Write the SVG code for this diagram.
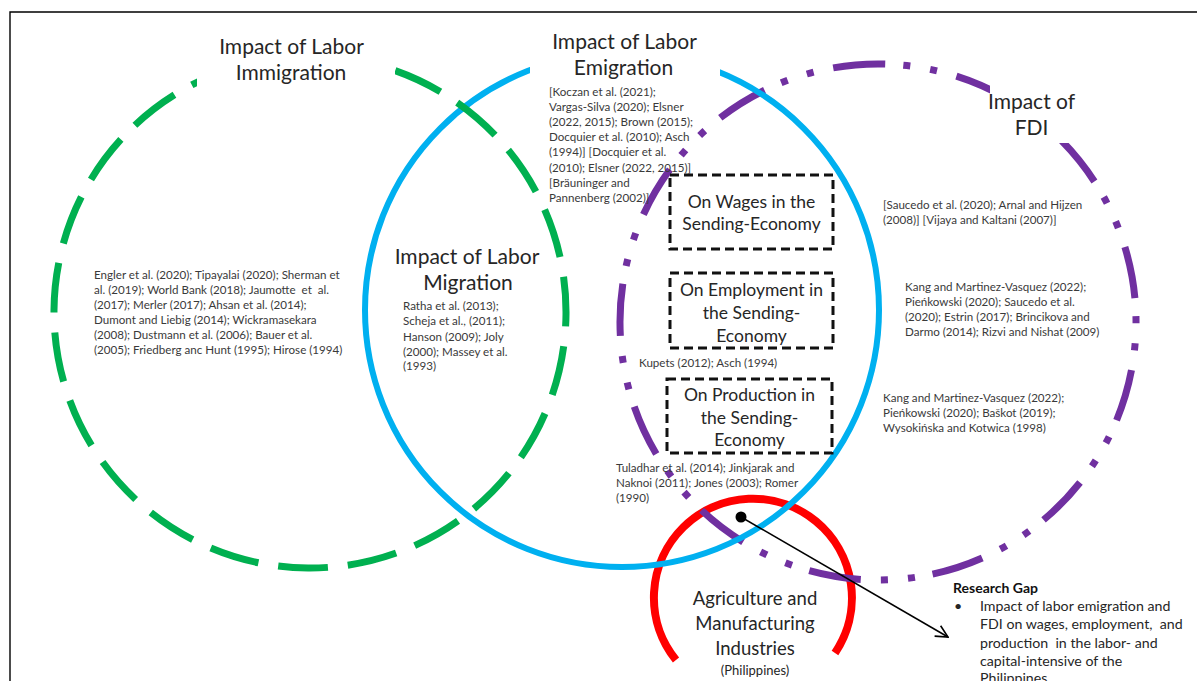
<svg xmlns="http://www.w3.org/2000/svg" width="1197" height="681" viewBox="0 0 1197 681">
<defs>
<style>
text { font-family: Lato, "Liberation Sans", sans-serif; }
.title { font-size: 21px; fill: #262626; text-anchor: middle; }
.boxt { font-size: 17.5px; fill: #262626; text-anchor: middle; }
.cite { font-size: 11.6px; fill: #3a3a3a; }
.gap { font-size: 14.2px; fill: #262626; }
.gapb { font-size: 14px; font-weight: bold; fill: #111; }
.cover { fill: #ffffff; stroke: none; }
.dbox { fill: #ffffff; stroke: #111; stroke-width: 3; stroke-dasharray: 9 5; }
.ring { fill: none; }
</style>
<marker id="arrowHead" viewBox="0 0 14 14" refX="13" refY="7" markerWidth="14" markerHeight="14" markerUnits="userSpaceOnUse" orient="auto">
<path d="M1,1 L13,7 L1,13" fill="none" stroke="#000" stroke-width="1.6"/>
</marker>
<marker id="dotStart" viewBox="0 0 12 12" refX="6" refY="6" markerWidth="12" markerHeight="12" markerUnits="userSpaceOnUse">
<circle cx="6" cy="6" r="5.5" fill="#000"/>
</marker>
</defs>

<rect x="0" y="0" width="1197" height="681" fill="#ffffff"/>
<path d="M10,681 L10,12 L1197,12" fill="none" stroke="#000" stroke-width="1.4"/>

<g id="node-agriculture">
<path class="ring" d="M676,660 A99,99 0 1,1 835,653" stroke="#FF0000" stroke-width="8"/>
<text class="title" x="755" y="604.5" style="font-size:18.5px">Agriculture and</text>
<text class="title" x="755" y="629.5" style="font-size:18.5px">Manufacturing</text>
<text class="title" x="755" y="654.5" style="font-size:18.5px">Industries</text>
<text class="title" x="755" y="674.5" style="font-size:13px">(Philippines)</text>
</g>

<g id="node-fdi">
<path class="ring" d="M833.2,67.9 A258,258 0 1,1 922.8,576.1 A258,258 0 1,1 833.2,67.9" pathLength="1612" stroke="#7030A0" stroke-width="7" stroke-dasharray="52 18 7 20 7 20"/>
<rect class="cover" x="990" y="80" width="85" height="63"/>
<text class="title" x="1031.5" y="109">Impact of</text>
<text class="title" x="1031.5" y="135">FDI</text>
</g>

<g id="node-emigration">
<circle class="ring" cx="622" cy="310" r="257" stroke="#00B0F0" stroke-width="6"/>
<rect class="cover" x="530" y="22" width="190" height="62"/>
<text class="title" x="624.5" y="49">Impact of Labor</text>
<text class="title" x="623.5" y="75">Emigration</text>
</g>

<g id="node-immigration">
<path class="ring" d="M308,568 A256,256 0 1,1 312,56 A256,256 0 1,1 308,568" pathLength="1610" stroke="#00B050" stroke-width="7" stroke-dasharray="50 20" stroke-dashoffset="20"/>
<rect class="cover" x="197" y="28" width="198" height="62"/>
<text class="title" x="291.5" y="54">Impact of Labor</text>
<text class="title" x="291" y="80">Immigration</text>
</g>

<g id="node-migration">
<text class="title" x="467" y="264">Impact of Labor</text>
<text class="title" x="468" y="290">Migration</text>
</g>

<g id="node-wages">
<rect class="dbox" x="670" y="175" width="163" height="74"/>
<text class="boxt" x="751.5" y="208">On Wages in the</text>
<text class="boxt" x="751.5" y="230">Sending-Economy</text>
</g>

<g id="node-employment">
<rect class="dbox" x="670" y="273" width="163" height="75"/>
<text class="boxt" x="751.5" y="296">On Employment in</text>
<text class="boxt" x="751.5" y="319">the Sending-</text>
<text class="boxt" x="751.5" y="342">Economy</text>
</g>

<g id="node-production">
<rect class="dbox" x="667" y="379" width="165" height="74"/>
<text class="boxt" x="749.5" y="401">On Production in</text>
<text class="boxt" x="749.5" y="424">the Sending-</text>
<text class="boxt" x="749.5" y="446">Economy</text>
</g>

<g id="cite-immigration">
<text class="cite" x="94" y="279">Engler et al. (2020); Tipayalai (2020); Sherman et</text>
<text class="cite" x="94" y="294" xml:space="preserve">al. (2019); World Bank (2018); Jaumotte  et  al.</text>
<text class="cite" x="94" y="309">(2017); Merler (2017); Ahsan et al. (2014);</text>
<text class="cite" x="94" y="324">Dumont and Liebig (2014); Wickramasekara</text>
<text class="cite" x="94" y="339">(2008); Dustmann et al. (2006); Bauer et al.</text>
<text class="cite" x="94" y="354">(2005); Friedberg anc Hunt (1995); Hirose (1994)</text>
</g>

<g id="cite-migration">
<text class="cite" x="403" y="310">Ratha et al. (2013);</text>
<text class="cite" x="403" y="325">Scheja et al., (2011);</text>
<text class="cite" x="403" y="341">Hanson (2009); Joly</text>
<text class="cite" x="403" y="356">(2000); Massey et al.</text>
<text class="cite" x="403" y="370">(1993)</text>
</g>

<g id="cite-emigration">
<text class="cite" x="549" y="95.5">[Koczan et al. (2021);</text>
<text class="cite" x="549" y="110.7">Vargas-Silva (2020); Elsner</text>
<text class="cite" x="549" y="125.9">(2022, 2015); Brown (2015);</text>
<text class="cite" x="549" y="141.1">Docquier et al. (2010); Asch</text>
<text class="cite" x="549" y="156.3">(1994)] [Docquier et al.</text>
<text class="cite" x="549" y="171.5">(2010); Elsner (2022, 2015)]</text>
<text class="cite" x="549" y="186.7">[Bräuninger and</text>
<text class="cite" x="549" y="201.9">Pannenberg (2002)]</text>
</g>

<g id="cite-fdi-wages">
<text class="cite" x="883" y="209">[Saucedo et al. (2020); Arnal and Hijzen</text>
<text class="cite" x="883" y="224">(2008)] [Vijaya and Kaltani (2007)]</text>
</g>

<g id="cite-fdi-employment">
<text class="cite" x="905" y="290.5">Kang and Martinez-Vasquez (2022);</text>
<text class="cite" x="905" y="305.5">Pieńkowski (2020); Saucedo et al.</text>
<text class="cite" x="905" y="320.5">(2020); Estrin (2017); Brincikova and</text>
<text class="cite" x="905" y="335.5">Darmo (2014); Rizvi and Nishat (2009)</text>
</g>

<g id="cite-fdi-production">
<text class="cite" x="883" y="401.5">Kang and Martinez-Vasquez (2022);</text>
<text class="cite" x="883" y="416.5">Pieńkowski (2020); Baškot (2019);</text>
<text class="cite" x="883" y="431.5">Wysokińska and Kotwica (1998)</text>
</g>

<g id="cite-employment">
<text class="cite" x="639" y="367">Kupets (2012); Asch (1994)</text>
</g>

<g id="cite-production">
<text class="cite" x="616" y="472">Tuladhar et al. (2014); Jinkjarak and</text>
<text class="cite" x="616" y="487">Naknoi (2011); Jones (2003); Romer</text>
<text class="cite" x="616" y="502">(1990)</text>
</g>

<g id="node-research-gap">
<text class="gapb" x="953" y="593">Research Gap</text>
<text class="gap" x="954" y="611">•</text>
<text class="gap" x="980" y="611">Impact of labor emigration and</text>
<text class="gap" x="980" y="629" xml:space="preserve">FDI on wages, employment,  and</text>
<text class="gap" x="980" y="647.5" xml:space="preserve">production  in the labor- and</text>
<text class="gap" x="980" y="665.5">capital-intensive of the</text>
<text class="gap" x="980" y="683">Philippines</text>
</g>

<g id="connectors">
<line x1="741" y1="517" x2="948" y2="637" stroke="#000" stroke-width="1.5" marker-start="url(#dotStart)" marker-end="url(#arrowHead)"/>
</g>
</svg>
